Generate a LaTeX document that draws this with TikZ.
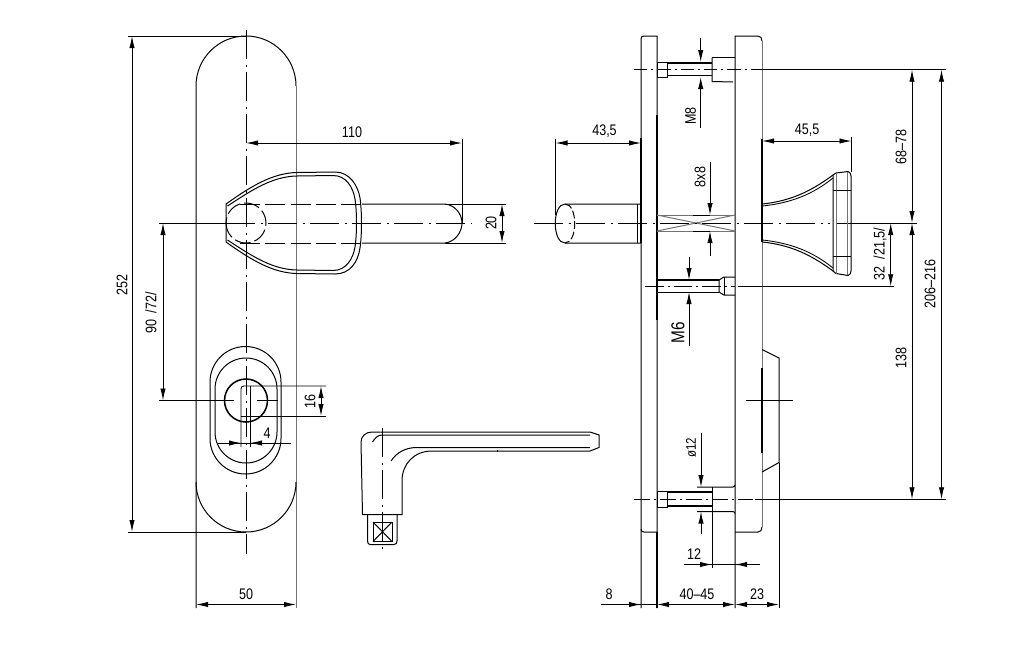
\documentclass[tikz,border=0pt]{standalone}
\usepackage{fontspec}
\setmainfont[FakeStretch=0.82]{Liberation Sans}
\usetikzlibrary{arrows.meta, positioning}
\tikzstyle{every picture} = [x=0.75pt,y=-0.75pt]
\tikzset{
  outline/.style={line width=0.75pt,black},
  heavy/.style={line width=1.15pt,black},
  soft/.style={line width=0.75pt,black!55},
  fine/.style={line width=0.65pt,black},
  centre/.style={line width=0.65pt,black,dash pattern=on 22pt off 4pt on 1.5pt off 4pt},
  hidden/.style={line width=0.75pt,black,dash pattern=on 15pt off 4pt},
  dim/.style={line width=0.65pt,black,{Latex[length=9pt,width=4pt]}-{Latex[length=9pt,width=4pt]}},
  dimend/.style={line width=0.65pt,black,-{Latex[length=9pt,width=4pt]}},
  size/.style={inner sep=0pt,font=\fontsize{11.5}{13}\selectfont},
  sizeup/.style={size,rotate=90},
}
\begin{document}
\begin{tikzpicture}
  \useasboundingbox (0,0) rectangle (1024,654);

  % front view, plate
  \draw[outline] (196,608) -- (196,86) arc[start angle=180,end angle=360,radius=50];
  \draw[soft] (296,86) -- (296,608);
  \draw[outline] (196,482) arc[start angle=180,end angle=0,radius=50];
  \draw[centre] (246,30) -- (246,554);

  % handle from the front
  \draw[outline] (226,204) .. controls (250,187) and (272,173) .. (297,172.5) -- (335,172) .. controls (350,172) and (358,186) .. (360,198) .. controls (362,212) and (362,234) .. (360,248) .. controls (358,262) and (350,274) .. (335,274) -- (297,273.5) .. controls (272,273) and (250,259) .. (226,242) -- cycle;
  \draw[outline] (227.5,206) .. controls (252,190) and (272,176.5) .. (297,176) -- (333,175.5) .. controls (346,175.5) and (353,187) .. (355,199) .. controls (357,212) and (357,234) .. (355,247) .. controls (353,259) and (346,270.5) .. (333,270.5) -- (297,270) .. controls (272,269.5) and (252,256) .. (227.5,240);
  \draw[hidden,dash pattern=on 12pt off 3pt] (246,223) ++(-20,0) arc[start angle=180,end angle=-180,radius=20];
  \draw[hidden] (240,204) -- (362,204);
  \draw[hidden] (240,243) -- (362,243);
  \draw[outline] (362,204) -- (445,204) .. controls (455,205) and (462,214) .. (462,223) .. controls (462,232) and (455,242) .. (445,243) -- (362,243);
  \draw[fine] (159,223) -- (226,223);
  \draw[centre] (226,223) -- (472,223);

  % escutcheon and cylinder
  \draw[outline] (210,382) arc[start angle=180,end angle=360,radius=35.5] -- (281,438.5) arc[start angle=0,end angle=180,radius=35.5] -- cycle;
  \draw[outline] (215,389) arc[start angle=180,end angle=360,radius=31] -- (277,432) arc[start angle=0,end angle=180,radius=31] -- cycle;
  \draw[heavy] (246,400.5) circle[radius=21.5];
  \draw[fine] (241,447) -- (241,389) .. controls (241,387) and (242,386) .. (244,386) -- (326,386);
  \draw[fine] (250,386) -- (250,447);
  \draw[fine] (241,416) -- (326,416);
  \draw[fine] (257,400.5) -- (278,400.5);

  % dimensions of the front view
  \draw[fine] (128,36) -- (246,36);
  \draw[fine] (128,532) -- (246,532);
  \draw[dim] (132,36) -- (132,532);
  \node (size 252) at (122,285) [sizeup] {252};
  \draw[fine] (159,400.5) -- (234,400.5);
  \draw[dim] (163,223) -- (163,400.5);
  \node (size 90) at (151,313) [sizeup] {90\ \ /72/};
  \draw[dim] (246,143) -- (462,143);
  \draw[fine] (462,139) -- (462,223);
  \node (size 110) at (352,132) [size] {110};
  \draw[fine] (445,204) -- (506,204);
  \draw[fine] (445,243) -- (506,243);
  \draw[dim] (502,204) -- (502,243);
  \node (size 20) at (491,223) [sizeup] {20};
  \draw[dim] (321,386) -- (321,416);
  \node (size 16) at (310,401) [sizeup] {16};
  \draw[fine] (218,443) -- (291,443);
  \draw[dimend] (229,443) -- (241,443);
  \draw[dimend] (262,443) -- (250,443);
  \node (size 4) at (267,433) [size] {4};
  \draw[dim] (196,604.5) -- (296,604.5);
  \node (size 50) at (246,594) [size] {50};

  % lever
  \draw[outline] (362.5,514.5) -- (361,442) .. controls (361,436) and (366,432) .. (372,432) -- (590,432) -- (599,435) -- (599,447.5) -- (590,451) -- (432,451) .. controls (414,451) and (402,464) .. (402,481) -- (402,514.5) -- cycle;
  \draw[outline] (372.5,442) .. controls (375,438) and (378,435) .. (382,435) -- (590,435);
  \draw[outline] (391,461) .. controls (397,452) and (406,447.5) .. (417,447.5) -- (590,447.5);
  \draw[outline] (497.5,450) -- (497.5,452);
  \draw[outline] (367.5,514.5) -- (367.5,541) .. controls (367.5,543) and (368.5,544.5) .. (370,544.5) -- (394,544.5) .. controls (396,544.5) and (397,543) .. (397,541) -- (397,514.5);
  \draw[outline] (373,522) rectangle (392,541.5);
  \draw[outline] (373,522) -- (392,541.5);
  \draw[outline] (373,541.5) -- (392,522);
  \draw[centre] (382,428) -- (382,549);

  % side view, plates
  \draw[outline] (641,608) -- (641,39) .. controls (641,37) and (642,36) .. (644,36) -- (657,36) -- (657,608);
  \draw[heavy] (657,115) -- (657,320);
  \draw[heavy] (657,532) -- (657,608);
  \draw[outline] (641,529) .. controls (641,531) and (642,532) .. (644,532) -- (657,532);
  \draw[outline] (735,608) -- (735,36) -- (758,36) .. controls (760.5,36) and (762,38) .. (762,41);
  \draw[soft] (762,41) -- (762,527);
  \draw[outline] (762,527) .. controls (762,530) and (760.5,532) .. (758,532) -- (735,532);

  % spindle
  \draw[soft] (657,215) -- (735,215);
  \draw[soft] (657,231) -- (735,231);
  \draw[soft] (657,215) -- (735,231);
  \draw[soft] (657,231) -- (735,215);
  \draw[outline] (693,215) -- (710,215);
  \draw[outline] (693,231) -- (710,231);
  \draw[centre] (534,223) -- (830,223);
  \draw[fine] (836,223) -- (917,223);

  % handle stub on the left
  \draw[outline] (641,204) -- (565,204) .. controls (552,204) and (552,243) .. (565,243) -- (641,243);
  \draw[hidden,dash pattern=on 6pt off 2pt] (565,204) .. controls (578,204) and (578,243) .. (565,243);
  \draw[outline] (637,204) -- (637,243);
  \draw[heavy] (641,138) -- (641,243);

  % rose on the right
  \draw[heavy] (762,139) -- (762,242);
  \draw[outline] (762.5,204) .. controls (790,201) and (810,192) .. (833,175);
  \draw[fine] (762.5,206) .. controls (790,203) and (812,195) .. (833,178);
  \draw[outline] (762.5,242) .. controls (790,245) and (810,254) .. (833,271);
  \draw[fine] (762.5,240) .. controls (790,243) and (812,251) .. (833,268);
  \draw[outline] (833,271) -- (833,175) -- (836,173) -- (848,171.5) .. controls (850,172) and (851,174) .. (851,176) -- (851,271) .. controls (851,273) and (850,275) .. (848,275.5) -- (836,273.5) -- cycle;
  \draw[soft] (836,173) -- (836,273.5);
  \draw[soft] (847,172) -- (847,275);
  \draw[heavy] (833,190.5) -- (851,190.5);
  \draw[heavy] (833,256.5) -- (851,256.5);

  % upper screw
  \draw[outline] (657,62) rectangle (667.5,77);
  \draw[heavy] (667.5,63) -- (712,63);
  \draw[outline] (667.5,75) -- (712,75);
  \draw[outline] (712,57.5) -- (735,57.5);
  \draw[outline] (712,57.5) -- (712,81.5) -- (733,82);
  \draw[centre,dash pattern=on 10pt off 3pt on 1.5pt off 3pt] (634,69.7) -- (755,69.7);
  \draw[outline] (755,69.7) -- (946,69.7);

  % middle screw
  \draw[heavy] (657,280) -- (719,280);
  \draw[outline] (657,292) -- (719,292);
  \draw[outline] (719,280) -- (719,292) -- (724,295) -- (735,295);
  \draw[outline] (719,280) -- (724,277) -- (735,277);
  \draw[outline] (724,277) -- (724,295);
  \draw[centre,dash pattern=on 14pt off 3pt on 1.5pt off 3pt] (645,286.3) -- (735,286.3);
  \draw[fine] (738,286.3) -- (894,286.3);

  % lower screw
  \draw[outline] (657,491) rectangle (667.5,507.5);
  \draw[heavy] (667.5,492) -- (712,492);
  \draw[heavy] (667.5,506) -- (712,506);
  \draw[outline] (697,487) -- (733,487) .. controls (734,487) and (735,486) .. (735,485);
  \draw[outline] (697,511.5) -- (733,511.5) .. controls (734,511.5) and (735,512.5) .. (735,513.5);
  \draw[outline] (712,487) -- (712,568);
  \draw[centre,dash pattern=on 12pt off 3pt on 1.5pt off 3pt] (634,499.3) -- (753,499.3);
  \draw[outline] (755,499.3) -- (946,499.3);

  % cover on the right
  \draw[outline] (762,349.5) -- (779,358) -- (779,462.5) -- (762,472);
  \draw[heavy] (762,368) -- (762,453);
  \draw[fine] (746,400.7) -- (793,400.7);
  \draw[fine] (779,462.5) -- (779,608);

  % dimensions of the side view
  \draw[dim] (555.5,143) -- (641,143);
  \draw[fine] (555.5,139) -- (555.5,215);
  \node (size 43) at (604.5,131) [size] {43,5};
  \draw[dim] (762,141) -- (851.5,141);
  \draw[fine] (851.5,137) -- (851.5,172);
  \node (size 45) at (807,130) [size] {45,5};
  \draw[dimend] (700.7,38) -- (700.7,62);
  \draw[dimend] (700.7,128) -- (700.7,77);
  \node (size M8) at (690.5,116) [sizeup] {M8};
  \draw[dimend] (710,162) -- (710,215);
  \draw[dimend] (710,256) -- (710,231);
  \node (size 8x8) at (700,177) [sizeup] {8x8};
  \draw[dimend] (689,257) -- (689,280);
  \draw[dimend] (689,346) -- (689,292);
  \node (size M6) at (678,333) [sizeup,font=\fontsize{14}{16}\selectfont] {M6};
  \draw[dimend] (701,433) -- (701,487);
  \draw[dimend] (701,534) -- (701,511.5);
  \node (size d12) at (691,448) [sizeup,font=\fontsize{10.5}{12}\selectfont] {ø12};
  \draw[fine] (684,564.5) -- (760,564.5);
  \draw[dimend] (700,564.5) -- (712,564.5);
  \draw[dimend] (747,564.5) -- (735,564.5);
  \node (size 12) at (694,554) [size] {12};
  \draw[fine] (601,604.5) -- (657,604.5);
  \draw[dimend] (629,604.5) -- (641,604.5);
  \node (size 8) at (609,594) [size] {8};
  \draw[dim] (657,604.5) -- (735,604.5);
  \node (size 40) at (697,594) [size] {40--45};
  \draw[dim] (735,604.5) -- (779,604.5);
  \node (size 23) at (757,594) [size] {23};
  \draw[dim] (912,69.7) -- (912,223);
  \node (size 68) at (901,147) [sizeup] {68--78};
  \draw[dim] (912,223) -- (912,499.3);
  \node (size 138) at (901,358) [sizeup] {138};
  \draw[dim] (941.5,69.7) -- (941.5,499.3);
  \node (size 206) at (930,284) [sizeup] {206--216};
  \draw[dim] (890.7,223) -- (890.7,286.3);
  \node (size 32) at (880,254) [sizeup] {32\ \ /21,5/};
\end{tikzpicture}
\end{document}
